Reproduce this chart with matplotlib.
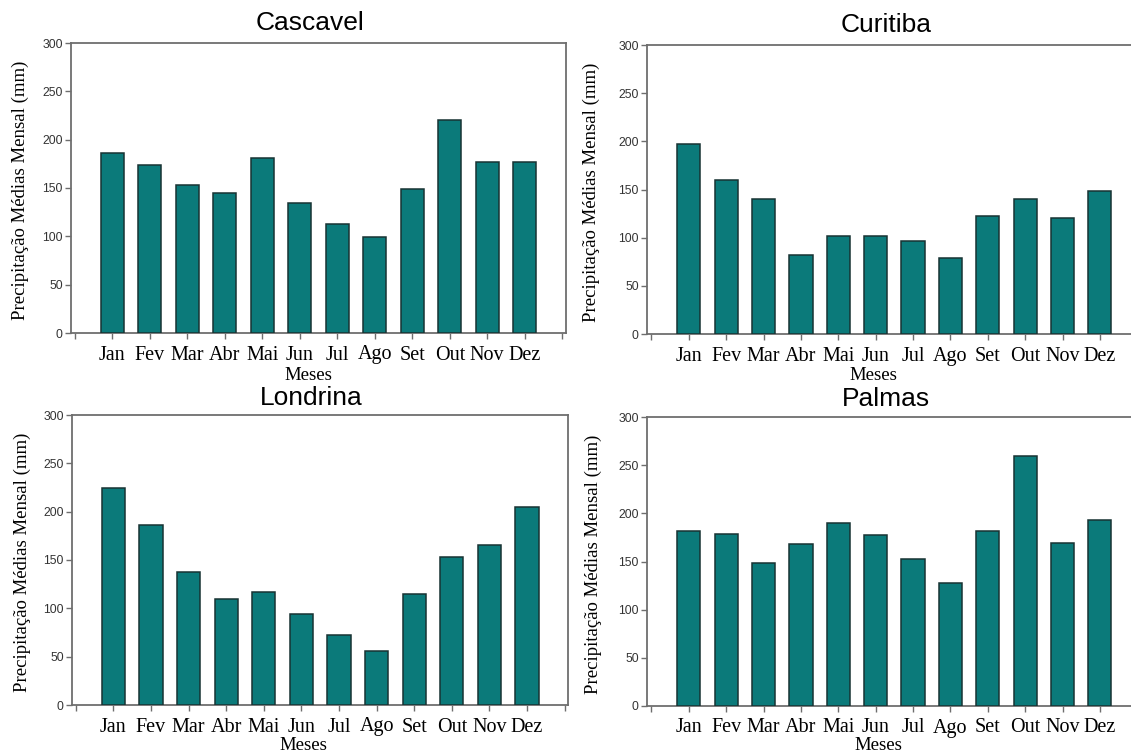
import matplotlib
matplotlib.use("Agg")
import matplotlib.pyplot as plt
import numpy as np

months = ["Jan", "Fev", "Mar", "Abr", "Mai", "Jun", "Jul", "Ago", "Set", "Out", "Nov", "Dez"]
cascavel = [186, 174, 153, 145, 181, 135, 113, 99, 149, 220, 177, 177]
curitiba = [197, 160, 140, 82, 102, 102, 97, 79, 123, 140, 120, 148]
londrina = [224, 186, 138, 110, 117, 94, 72, 56, 115, 153, 166, 205]
palmas = [182, 179, 148, 168, 190, 178, 153, 128, 182, 259, 169, 193]
titles = ["Cascavel", "Curitiba", "Londrina", "Palmas"]
series = [cascavel, curitiba, londrina, palmas]

W, H = 1131, 756
fig = plt.figure(figsize=(W / 100, H / 100), dpi=100)

# axes boxes in pixels: left, right, top, bottom
boxes = [(71, 566, 43, 333), (647, 1141, 45, 334), (72, 568, 415, 705), (647, 1141, 417, 706)]
xlims = [(-0.1, 13.1), (-0.12, 13.1), (-0.1, 13.09), (-0.12, 13.1)]
title_pos = [(310, 23), (886, 25), (311, 398), (886, 399)]
meses_pos = [(308, 375), (873, 376), (303, 746), (878, 746)]
ylab_pos = [(20, 190), (591, 192), (22, 562), (593, 564)]

bar_color = "#0B7A7A"
edge_color = "#183333"
spine_color = "#6E6E6E"

def fx(x):
    return x / W

def fy(y):
    return 1 - y / H

for i in range(4):
    l, r, t, b = boxes[i]
    ax = fig.add_axes([fx(l), fy(b), (r - l) / W, (b - t) / H])
    x = np.arange(1, 13)
    ax.bar(x, series[i], width=0.62, color=bar_color, edgecolor=edge_color, linewidth=1.1, zorder=3)
    ax.set_xlim(*xlims[i])
    ax.set_ylim(0, 300)
    ax.set_yticks(np.arange(0, 301, 50))
    ax.set_xticks(np.arange(0, 14))
    ax.set_xticklabels([""] + months + [""], fontfamily="Liberation Serif", fontsize=14.5, color="black")
    for lab in ax.get_yticklabels():
        lab.set_fontfamily("Liberation Sans")
        lab.set_fontsize(8.8)
        lab.set_color("#333333")
    ax.tick_params(axis="x", direction="out", length=4, width=1, color=spine_color, pad=5)
    ax.tick_params(axis="y", direction="out", length=4, width=1, color=spine_color, pad=2)
    for s in ax.spines.values():
        s.set_color(spine_color)
        s.set_linewidth(1.3)
    fig.text(fx(title_pos[i][0]), fy(title_pos[i][1]), titles[i], ha="center", va="center",
             fontfamily="Liberation Sans", fontsize=19)
    fig.text(fx(meses_pos[i][0]), fy(meses_pos[i][1]), "Meses", ha="center", va="center",
             fontfamily="Liberation Serif", fontsize=13.5)
    fig.text(fx(ylab_pos[i][0]), fy(ylab_pos[i][1]), "Precipitação Médias Mensal (mm)", ha="center", va="center",
             rotation=90, fontfamily="Liberation Serif", fontsize=13.5)

fig.savefig("out.png", dpi=100)
